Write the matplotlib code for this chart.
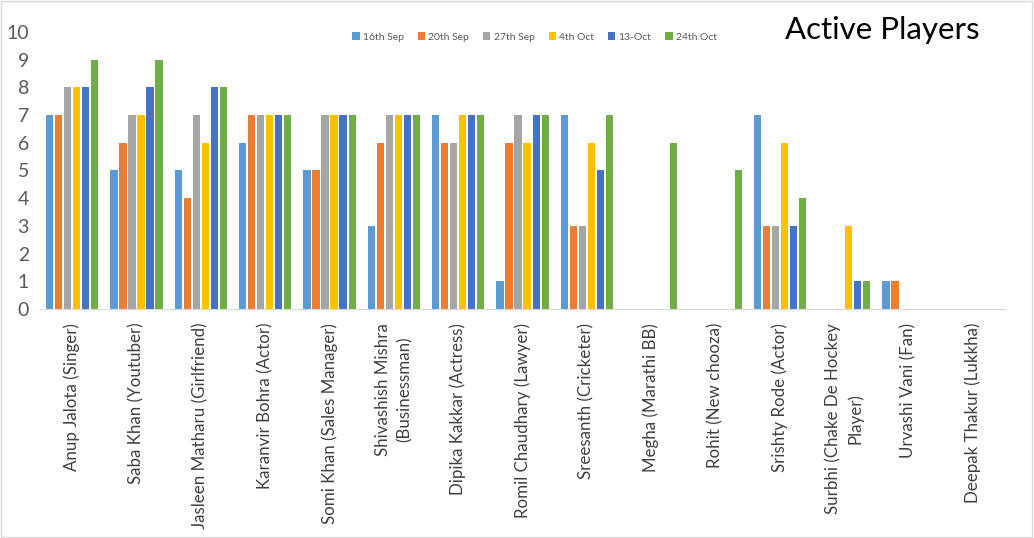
import matplotlib
matplotlib.use("Agg")
import matplotlib.pyplot as plt
import numpy as np

players = ["Anup Jalota (Singer)", "Saba Khan (Youtuber)", "Jasleen Matharu (Girlfriend)",
           "Karanvir Bohra (Actor)", "Somi Khan (Sales Manager)", "Shivashish Mishra\n(Businessman)",
           "Dipika Kakkar (Actress)", "Romil Chaudhary (Lawyer)", "Sreesanth (Cricketer)",
           "Megha (Marathi BB)", "Rohit (New chooza)", "Srishty Rode (Actor)",
           "Surbhi (Chake De Hockey\nPlayer)", "Urvashi Vani (Fan)", "Deepak Thakur (Lukkha)"]
dates = ["16th Sep", "20th Sep", "27th Sep", "4th Oct", "13-Oct", "24th Oct"]

sep16 = [7, 5, 5, 6, 5, 3, 7, 1, 7, 0, 0, 7, 0, 1, 0]
sep20 = [7, 6, 4, 7, 5, 6, 6, 6, 3, 0, 0, 3, 0, 1, 0]
sep27 = [8, 7, 7, 7, 7, 7, 6, 7, 3, 0, 0, 3, 0, 0, 0]
oct4 = [8, 7, 6, 7, 7, 7, 7, 6, 6, 0, 0, 6, 3, 0, 0]
oct13 = [8, 8, 8, 7, 7, 7, 7, 7, 5, 0, 0, 3, 1, 0, 0]
oct24 = [9, 9, 8, 7, 7, 7, 7, 7, 7, 6, 5, 4, 1, 0, 0]
series = [sep16, sep20, sep27, oct4, oct13, oct24]
colors = ["#5B9BD5", "#ED7D31", "#A5A5A5", "#FFC000", "#4472C4", "#70AD47"]

plt.rcParams['font.family'] = ['Lato', 'DejaVu Sans']

fig = plt.figure(figsize=(10.34, 5.38), dpi=100)
ax = fig.add_axes([0.0387, 0.4257, 0.9333, 0.5148])

x = np.arange(len(players))
step = 0.14
w = 0.11
for i, (vals, c, lab) in enumerate(zip(series, colors, dates)):
    ax.bar(x + (i - 2.5) * step, vals, width=w, color=c, label=lab)

ax.set_xlim(-0.5, len(players) - 0.5)
ax.set_ylim(0, 10)
ax.set_yticks(range(0, 11))
ax.tick_params(axis='y', length=0, labelsize=14, labelcolor="#595959", pad=8)
ax.set_xticks(x)
ax.set_xticklabels(players, rotation=90, fontsize=12.2, color="#404040",
                   va='top', ha='center', multialignment='center', linespacing=1.4)
ax.tick_params(axis='x', length=0, pad=10)
for s in ['top', 'right', 'left']:
    ax.spines[s].set_visible(False)
ax.spines['bottom'].set_color("#D9D9D9")

fig.text(0.759, 0.945, "Active Players", fontsize=22.5, color="black", va='center', ha='left')

fig.legend(loc='center', bbox_to_anchor=(0.517, 0.931), ncol=6, frameon=False,
           fontsize=7.5, handlelength=0.7, handleheight=0.7, handletextpad=0.3,
           columnspacing=1.35, labelcolor="#595959")

fig.patches.append(plt.Rectangle((0.001, 0.001), 0.997, 0.997, transform=fig.transFigure,
                                 fill=False, edgecolor="#D9D9D9", linewidth=1))

fig.savefig("out.png", dpi=100)
